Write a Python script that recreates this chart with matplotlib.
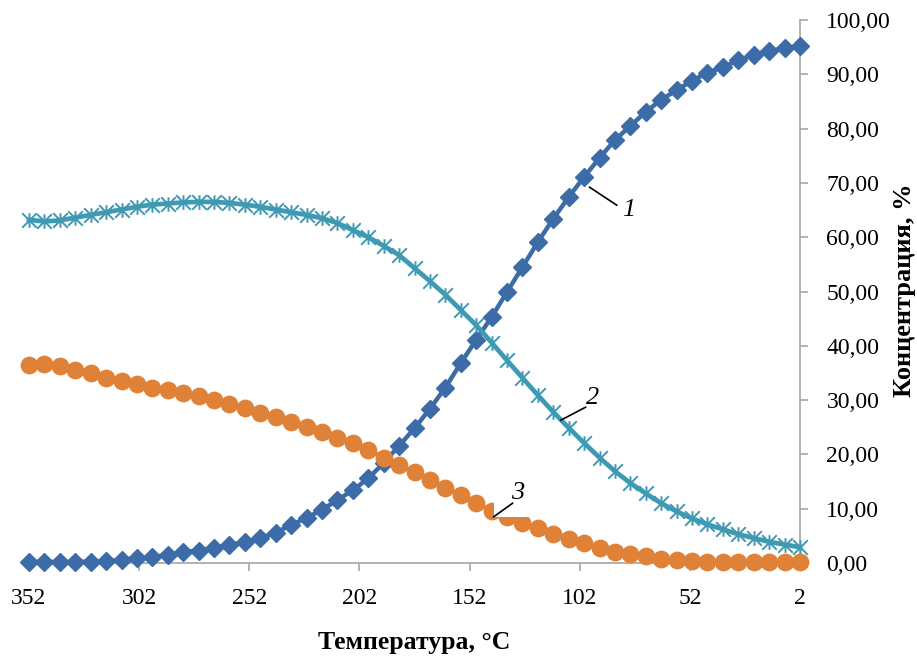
import matplotlib
matplotlib.use("Agg")
import matplotlib.pyplot as plt
from matplotlib.path import Path
from matplotlib.patches import Rectangle
from matplotlib.ticker import FuncFormatter

plt.rcParams['font.family'] = ['Liberation Serif', 'DejaVu Serif']

# temperature, °C (every 7 degrees from 352 down to 2)
temperature = [352, 345, 338, 331, 324, 317, 310, 303, 296, 289,
               282, 275, 268, 261, 254, 247, 240, 233, 226, 219,
               212, 205, 198, 191, 184, 177, 170, 163, 156, 149,
               142, 135, 128, 121, 114, 107, 100, 93, 86, 79,
               72, 65, 58, 51, 44, 37, 30, 23, 16, 9, 2]

# concentration, %
conc_1 = [0.2, 0.2, 0.2, 0.2, 0.25, 0.3, 0.6, 0.9, 1.1, 1.5,
          2.0, 2.3, 2.8, 3.4, 3.8, 4.6, 5.6, 7.0, 8.3, 9.8,
          11.6, 13.4, 15.6, 18.4, 21.6, 24.8, 28.4, 32.3, 36.8, 41.1,
          45.3, 49.9, 54.5, 59.1, 63.4, 67.4, 71.1, 74.6, 77.9, 80.5,
          83.1, 85.3, 87.1, 88.8, 90.3, 91.3, 92.6, 93.6, 94.3, 94.8, 95.2]
conc_2 = [63.2, 62.9, 63.1, 63.6, 64.1, 64.6, 65.1, 65.6, 66.0, 66.2,
          66.4, 66.5, 66.5, 66.3, 66.0, 65.6, 65.1, 64.6, 64.1, 63.5,
          62.6, 61.3, 60.0, 58.4, 56.7, 54.3, 51.9, 49.4, 46.6, 43.8,
          40.6, 37.3, 34.1, 30.9, 27.8, 24.9, 22.1, 19.4, 16.9, 14.7,
          12.8, 11.0, 9.5, 8.2, 7.1, 6.2, 5.3, 4.6, 3.9, 3.4, 2.9]
conc_3 = [36.5, 36.6, 36.3, 35.6, 34.9, 34.1, 33.5, 32.9, 32.3, 31.8,
          31.3, 30.8, 30.0, 29.2, 28.5, 27.7, 26.9, 26.0, 25.1, 24.1,
          23.1, 22.1, 20.8, 19.4, 18.0, 16.7, 15.3, 13.9, 12.5, 11.0,
          9.6, 8.4, 7.4, 6.4, 5.4, 4.4, 3.6, 2.8, 2.1, 1.6,
          1.2, 0.8, 0.5, 0.35, 0.25, 0.2, 0.15, 0.1, 0.1, 0.1, 0.1]

x_ticks = [352, 302, 252, 202, 152, 102, 52, 2]

blue = '#3b6ca7'
teal = '#3e9ab3'
orange = '#df8238'
axis_grey = '#a6a6a6'

# excel-like star marker: an x with a vertical bar
star = Path([(-1, -1), (1, 1), (-1, 1), (1, -1), (0, -1), (0, 1)],
            [Path.MOVETO, Path.LINETO, Path.MOVETO, Path.LINETO, Path.MOVETO, Path.LINETO])

fig = plt.figure(figsize=(9.17, 6.61), dpi=100)
ax = fig.add_axes([29 / 917, 1 - 563 / 661, 771 / 917, 543 / 661])

ax.plot(temperature, conc_1, color=blue, lw=3.2, marker='D', ms=9.2, clip_on=False, zorder=3)
ax.plot(temperature, conc_2, color=teal, lw=3.4, marker=star, ms=10.5, mew=1.4,
        mfc='none', mec=teal, clip_on=False, zorder=3)
ax.plot(temperature, conc_3, color=orange, lw=3, marker='o', ms=11.8, mec=orange, clip_on=False, zorder=3)

ax.set_xlim(352, 2)
ax.set_ylim(0, 100)
ax.set_xticks(x_ticks)
ax.set_yticks(range(0, 101, 10))
ax.yaxis.tick_right()
ax.yaxis.set_major_formatter(FuncFormatter(lambda v, p: f"{v:.2f}".replace('.', ',')))

for side in ['left', 'top']:
    ax.spines[side].set_visible(False)
for side in ['right', 'bottom']:
    ax.spines[side].set_color(axis_grey)
    ax.spines[side].set_linewidth(1.2)
ax.tick_params(axis='both', direction='out', length=6, width=1.2, color=axis_grey,
               labelsize=17, labelcolor='black')
ax.tick_params(axis='x', pad=12)
ax.tick_params(axis='y', pad=13)

# curve labels
ax.add_patch(Rectangle((124.3, 8.5), 16.8, 8.6, facecolor='white', edgecolor='none', zorder=4))
ax.plot([97.5, 85.2], [69.2, 65.9], color='black', lw=1.2, zorder=5)
ax.plot([110.6, 99.3], [26.3, 28.7], color='black', lw=1.2, zorder=5)
ax.plot([141.1, 132.5], [8.5, 11.0], color='black', lw=1.2, zorder=5)
ax.text(79.7, 65.0, '1', fontsize=19, style='italic', ha='center', va='center', zorder=5)
ax.text(96.1, 30.4, '2', fontsize=19, style='italic', ha='center', va='center', zorder=5)
ax.text(130.2, 12.9, '3', fontsize=19, style='italic', ha='center', va='center', zorder=5)

fig.text(414 / 917, 1 - 643 / 661, 'Температура, °C', fontsize=18.5, fontweight='bold',
         ha='center', va='center')
fig.text(904 / 917, 1 - 290 / 661, 'Концентрация, %', fontsize=19, fontweight='bold',
         rotation=90, ha='center', va='center')

fig.savefig('out.png', dpi=100)
